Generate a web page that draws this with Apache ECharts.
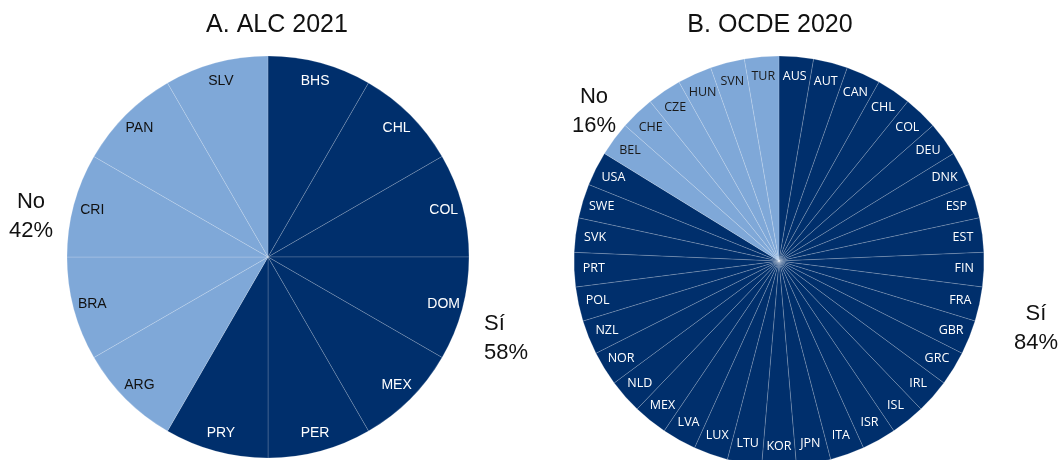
<!DOCTYPE html>
<html>
<head>
<meta charset="utf-8">
<script src="https://cdn.jsdelivr.net/npm/echarts@6/dist/echarts.min.js"></script>
<style>
  html, body { margin: 0; padding: 0; background: #fff; }
  #chart { width: 1062px; height: 460px; }
</style>
</head>
<body>
<div id="chart"></div>
<script>
// A. ALC 2021 - countries, clockwise from the top
const alcSi = ['BHS', 'CHL', 'COL', 'DOM', 'MEX', 'PER', 'PRY'];
const alcNo = ['ARG', 'BRA', 'CRI', 'PAN', 'SLV'];
// B. OCDE 2020
const ocdeSi = ['AUS', 'AUT', 'CAN', 'CHL', 'COL', 'DEU', 'DNK', 'ESP', 'EST', 'FIN',
  'FRA', 'GBR', 'GRC', 'IRL', 'ISL', 'ISR', 'ITA', 'JPN', 'KOR', 'LTU', 'LUX', 'LVA',
  'MEX', 'NLD', 'NOR', 'NZL', 'POL', 'PRT', 'SVK', 'SWE', 'USA'];
const ocdeNo = ['BEL', 'CHE', 'CZE', 'HUN', 'SVN', 'TUR'];

const titles = ['A. ALC 2021', 'B. OCDE 2020'];
const groupNames = ['Sí', 'No'];

const darkBlue = '#002f6c';
const lightBlue = '#7fa8d8';

const pct = (a, b) => Math.round(a.length / (a.length + b.length) * 100) + '%';

const buildData = (si, no, labelColorNo) => {
  const out = [];
  si.forEach((c) => out.push({ name: c, value: 1, itemStyle: { color: darkBlue }, label: { color: '#fff' } }));
  no.forEach((c) => out.push({ name: c, value: 1, itemStyle: { color: lightBlue }, label: { color: labelColorNo } }));
  return out;
};

const pieA = { center: [268, 257], r: 201 };
const pieB = { center: [779, 261], r: 205 };

const makeSeries = (pie, data, font, fontSize) => {
  return [
    {
      type: 'pie',
      center: pie.center,
      radius: [0, pie.r],
      startAngle: 90,
      animation: false,
      silent: true,
      label: { show: false },
      labelLine: { show: false },
      itemStyle: { borderColor: 'rgba(255,255,255,0.35)', borderWidth: 0.5 },
      data: data,
    },
    {
      // transparent ring only used to place the labels near the rim
      type: 'pie',
      center: pie.center,
      radius: [pie.r * 0.78, pie.r],
      startAngle: 90,
      animation: false,
      silent: true,
      labelLine: { show: false },
      label: {
        show: true,
        position: 'inside',
        rotate: 0,
        fontFamily: font,
        fontSize: fontSize,
        formatter: '{b}',
      },
      itemStyle: { color: 'rgba(0,0,0,0)', borderWidth: 0 },
      data: data.map((d) => ({ name: d.name, value: d.value, label: d.label, itemStyle: { color: 'rgba(0,0,0,0)' } })),
    },
  ];
};

const txt = (x, y, text, size, align) => ({
  type: 'text',
  x: x,
  y: y,
  style: {
    text: text,
    fontFamily: 'Liberation Sans',
    fontSize: size,
    fill: '#111',
    align: align || 'center',
    verticalAlign: 'middle',
    lineHeight: 29,
  },
});

const option = {
  backgroundColor: '#fff',
  graphic: [
    txt(277, 25, titles[0], 25),
    txt(770, 25, titles[1], 25),
    txt(31, 216, groupNames[1] + '\n' + pct(alcNo, alcSi), 22),
    txt(484, 338, groupNames[0] + '\n' + pct(alcSi, alcNo), 22, 'left'),
    txt(594, 111, groupNames[1] + '\n' + pct(ocdeNo, ocdeSi), 22),
    txt(1036, 328, groupNames[0] + '\n' + pct(ocdeSi, ocdeNo), 22),
  ],
  series: [
    ...makeSeries(pieA, buildData(alcSi, alcNo, '#111'), 'Liberation Sans', 14),
    ...makeSeries(pieB, buildData(ocdeSi, ocdeNo, '#1a1a1a'), 'Open Sans', 12.5),
  ],
};

const chart = echarts.init(document.getElementById('chart'), null, { renderer: 'canvas' });
chart.setOption(option);
</script>
</body>
</html>
